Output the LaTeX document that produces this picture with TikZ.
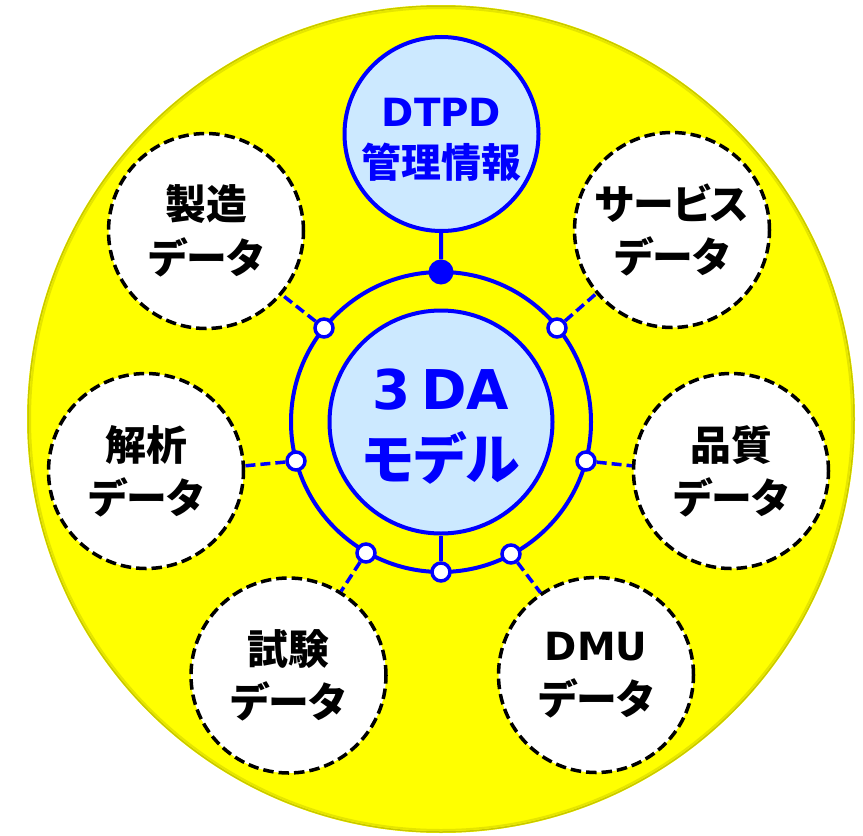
\documentclass[tikz,border=0pt]{standalone}
\usepackage{fontspec}
\newfontfamily\jp{Noto Sans CJK JP}[RawFeature=+palt]
\newfontfamily\lat{DejaVu Sans}
\definecolor{dtblue}{HTML}{0000FF}
\definecolor{dtfill}{HTML}{CCE9FF}
\definecolor{dtyellow}{HTML}{FFFF00}
\tikzset{
  datanode/.style={circle, draw=black, dash pattern=on 10.5bp off 5bp, line width=3.5bp,
    fill=white, minimum size=195bp, inner sep=0pt, align=center,
    font=\jp\bfseries\fontsize{41}{53.5}\selectfont},
  bluenode/.style={circle, draw=dtblue, line width=4bp, fill=dtfill, inner sep=0pt,
    align=center, text=dtblue},
  port/.style={circle, draw=dtblue, line width=3.5bp, fill=white, minimum size=18bp, inner sep=0pt},
  hub/.style={circle, fill=dtblue, minimum size=25bp, inner sep=0pt},
  conn/.style={draw=dtblue, line width=3.5bp, dash pattern=on 10bp off 5bp},
  solid conn/.style={draw=dtblue, line width=4bp}
}
\begin{document}
\begin{tikzpicture}[x=1bp,y=-1bp]
\useasboundingbox (0,0) rectangle (863,836);
% big yellow disc
\fill[dtyellow] (441,419) circle [radius=414];
\draw[dtyellow!78!black, line width=1.5bp] (441,419) circle [radius=413];
\draw[dtyellow!90!black, line width=2bp] (441,419) circle [radius=411];
% ring
\draw[solid conn] (441,422) circle [radius=150];
% central nodes
\node[bluenode, minimum size=223bp, font=\jp\bfseries\fontsize{55}{71}\selectfont] (model) at (441,422)
  {\rule{0pt}{50bp}{\lat\bfseries\fontsize{55}{71}\selectfont 3\kern10bp DA}\\モデル};
\node[bluenode, minimum size=194bp, font=\jp\bfseries\fontsize{40}{51}\selectfont] (dtpd) at (441.5,134)
  {\rule{0pt}{40bp}{\lat\bfseries\fontsize{39}{51}\selectfont DTPD}\\管理情報};
% hub and ports
\node[hub] (top) at (441,272) {};
\node[port] (pA) at (324,328) {};
\node[port] (pB) at (557,328) {};
\node[port] (pC) at (296,461) {};
\node[port] (pD) at (586,461) {};
\node[port] (pE) at (366,553) {};
\node[port] (pF) at (511,554) {};
\node[port] (pG) at (441,572) {};
\draw[solid conn] (dtpd) -- (top);
\draw[solid conn] (model) -- (pG);
% data nodes
\node[datanode] (mfg) at (206,231) {製造\\データ};
\node[datanode] (svc) at (672,230) {サービス\\データ};
\node[datanode] (ana) at (146,471) {解析\\データ};
\node[datanode] (qua) at (731,471) {品質\\データ};
\node[datanode] (tst) at (288.5,675.5) {試験\\データ};
\node[datanode] (dmu) at (596,675) {{\lat\bfseries\fontsize{39}{53.5}\selectfont DMU}\\データ};
% dashed connectors
\draw[conn] (pA) -- (mfg.-40);
\draw[conn] (pB) -- (svc.220);
\draw[conn] (pC) -- (ana.3);
\draw[conn] (pD) -- (qua.177);
\draw[conn] (pE) -- (tst.58);
\draw[conn] (pF) -- (dmu.124);
\end{tikzpicture}
\end{document}
